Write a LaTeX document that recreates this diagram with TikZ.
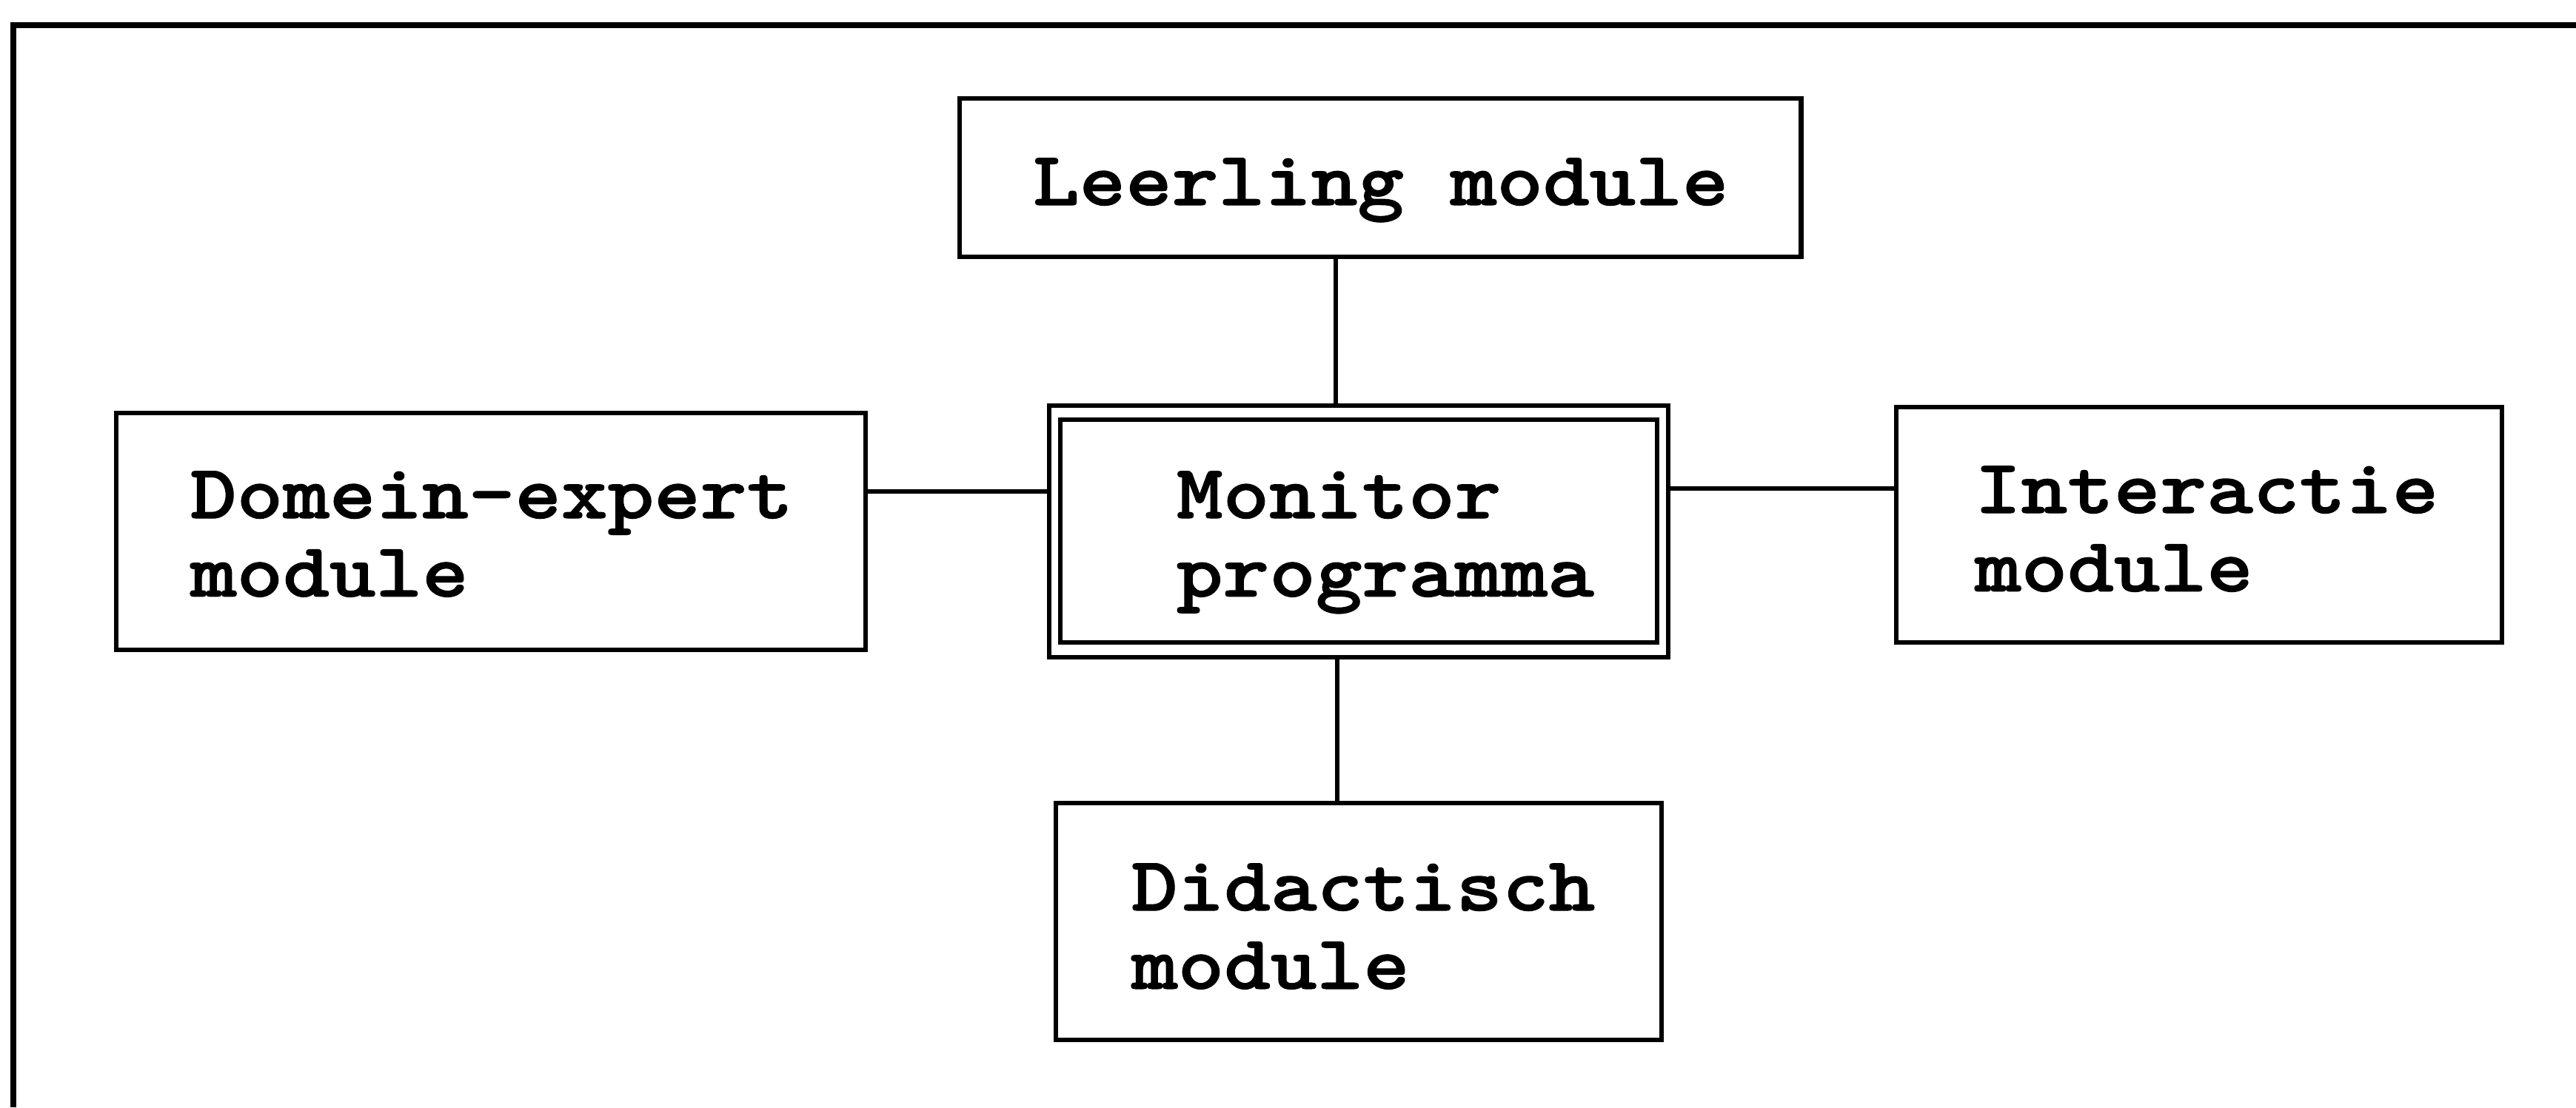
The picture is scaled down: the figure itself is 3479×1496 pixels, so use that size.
\documentclass[tikz,border=0pt]{standalone}
\usepackage{fontspec}
% heavy Courier-like typewriter face for the module names
\newfontfamily\boxfont{lmmonolt10-bold.otf}[FakeStretch=1.15, FakeBold=1.2]
\newcommand\twolines[2]{\begin{tabular}[t]{@{}l@{}}#1\\#2\end{tabular}}
\begin{document}
\begin{tikzpicture}[
  x=0.01cm, y=-0.01cm,
  modbox/.style={draw, rectangle, line width=1.8pt, inner sep=0pt, outer sep=0pt},
  modtext/.style={inner sep=0pt, outer sep=0pt, anchor=base west,
    font=\boxfont\fontsize{29.5pt}{30.1pt}\selectfont},
  link/.style={line width=1.6pt},
  frame/.style={line width=2pt, line join=miter}
]
\fill[white] (0,0) rectangle (3479,1496);
\useasboundingbox (0,0) rectangle (3479,1496);

% open page frame (left and top rule)
\draw[frame] (18,1496) -- (18,34) -- (3479,34);

% module boxes
\node[modbox, minimum width=11.36cm, minimum height=2.14cm] (leer)  at (1864,240)  {};
\node[modbox, minimum width=10.12cm, minimum height=3.20cm] (dom)   at (663,718)   {};
\node[modbox, minimum width=8.36cm,  minimum height=3.40cm] (mon)   at (1835,718)  {};
\node[modbox, minimum width=8.18cm,  minimum height=3.18cm] (inter) at (2970,709)  {};
\node[modbox, minimum width=8.17cm,  minimum height=3.20cm] (did)   at (1835,1245) {};

% inner rule of the double-framed monitor box
\draw[line width=1.8pt] ([shift={(15,19)}]mon.north west) rectangle ([shift={(-15,-20)}]mon.south east);

% labels
\node[modtext] (leertext)  at (1395,277)  {Leerling module};
\node[modtext] (domtext)   at (257,700)   {\twolines{Domein-expert}{module}};
\node[modtext] (montext)   at (1589,700)  {\twolines{Monitor}{programma}};
\node[modtext] (intertext) at (2667,693)  {\twolines{Interactie}{module}};
\node[modtext] (didtext)   at (1528,1230) {\twolines{Didactisch}{module}};

% connections to the monitor program
\draw[link] ([shift={(-31,0)}]mon.north) -- ([shift={(-31,0)}]mon.north |- leer.south);
\draw[link] ([shift={(-29,0)}]mon.south) -- ([shift={(-29,0)}]mon.south |- did.north);
\draw[link] ([shift={(0,-54)}]mon.west) -- ([shift={(0,-54)}]mon.west -| dom.east);
\draw[link] ([shift={(0,-58)}]mon.east) -- ([shift={(0,-58)}]mon.east -| inter.west);
\end{tikzpicture}
\end{document}
